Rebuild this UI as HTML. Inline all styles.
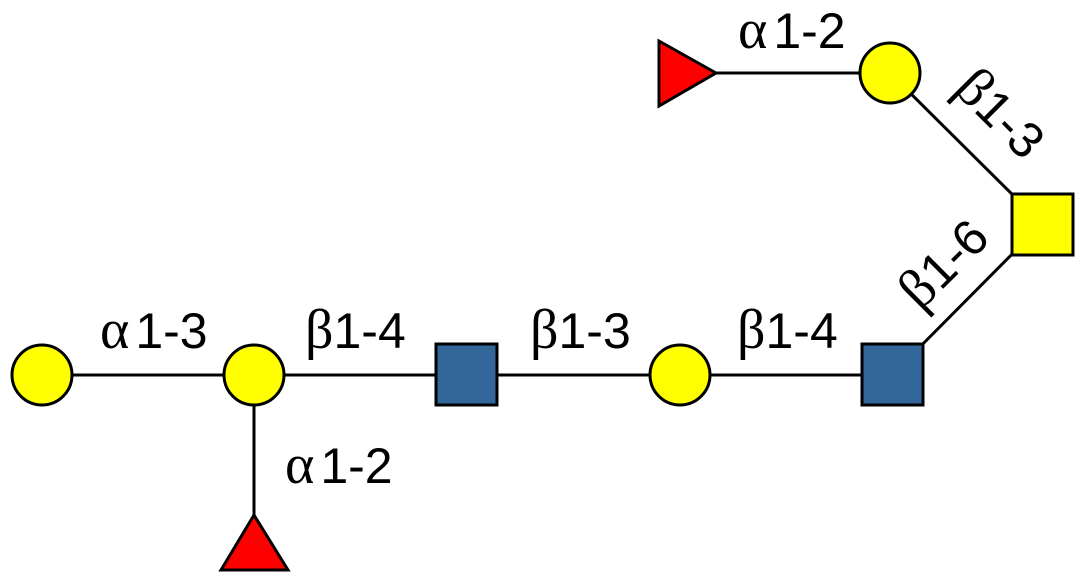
<!DOCTYPE html>
<html><head><style>html,body{margin:0;padding:0;background:#fff;}
.g{font-family:"Liberation Serif",serif;font-size:56px;}</style></head>
<body>
<svg width="1092" height="581" xmlns="http://www.w3.org/2000/svg" style="display:block">
<g stroke="#000" stroke-width="3" fill="none">
<line x1="42" y1="375" x2="892" y2="375"/>
<line x1="254" y1="375" x2="254" y2="515"/>
<line x1="892" y1="375" x2="1042" y2="224"/>
<line x1="1042" y1="224" x2="890" y2="73"/>
<line x1="700" y1="73" x2="890" y2="73"/>
</g>
<g stroke="#000" stroke-width="3">
<circle cx="42" cy="375" r="30" fill="#ffff00"/>
<circle cx="254" cy="375" r="30" fill="#ffff00"/>
<circle cx="680" cy="375" r="30" fill="#ffff00"/>
<circle cx="890" cy="73" r="30" fill="#ffff00"/>
<rect x="436" y="344" width="61" height="61" fill="#336699"/>
<rect x="862" y="344" width="61" height="61" fill="#336699"/>
<rect x="1012" y="194" width="61" height="61" fill="#ffff00"/>
<polygon points="254,515 288,570 221,570" fill="#ff0000"/>
<polygon points="659,41 716,73 659,106" fill="#ff0000"/>
</g>
<g font-family="Liberation Sans, Arial, sans-serif" font-size="50" fill="#000">
<text x="738" y="48"><tspan class="g">α</tspan><tspan dx="6">1-2</tspan></text>
<text x="100" y="348"><tspan class="g">α</tspan><tspan dx="6">1-3</tspan></text>
<text x="305" y="348"><tspan class="g">β</tspan>1-4</text>
<text x="530" y="348"><tspan class="g">β</tspan>1-3</text>
<text x="737" y="348"><tspan class="g">β</tspan>1-4</text>
<text x="285" y="483"><tspan class="g">α</tspan><tspan dx="6">1-2</tspan></text>
<text x="0" y="0" text-anchor="middle" transform="translate(988,126) rotate(45)"><tspan class="g">β</tspan>1-3</text>
<text x="0" y="0" text-anchor="middle" transform="translate(956,276) rotate(-45)"><tspan class="g">β</tspan>1-6</text>
</g>
</svg>
</body></html>
